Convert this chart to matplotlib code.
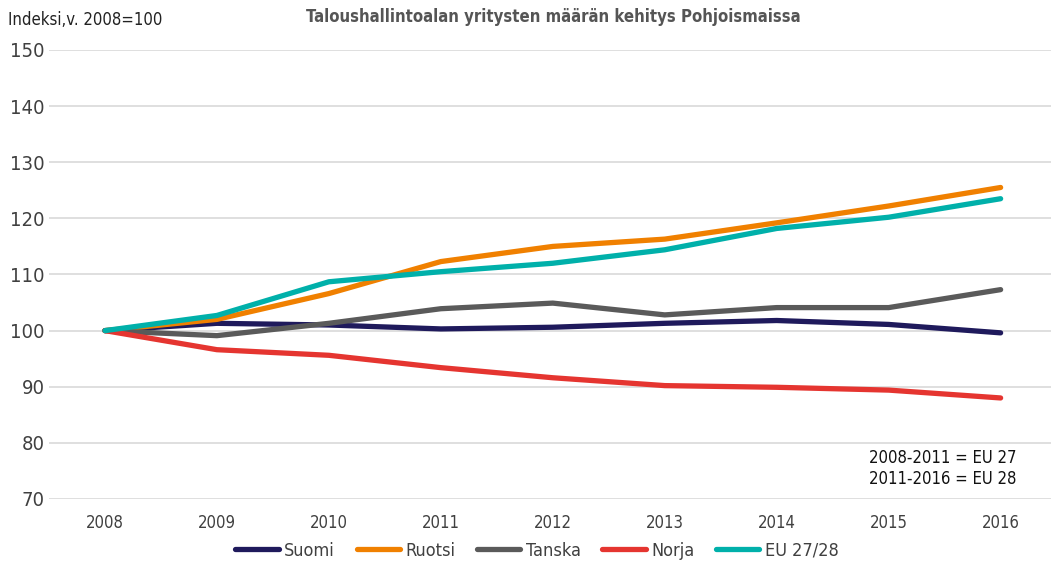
import matplotlib
matplotlib.use("Agg")
import matplotlib.pyplot as plt

years = [2008, 2009, 2010, 2011, 2012, 2013, 2014, 2015, 2016]
suomi = [100, 101.3, 101.0, 100.3, 100.6, 101.3, 101.8, 101.1, 99.6]
ruotsi = [100, 102.0, 106.6, 112.3, 115.0, 116.3, 119.2, 122.2, 125.5]
tanska = [100, 99.1, 101.3, 103.9, 104.9, 102.8, 104.1, 104.1, 107.3]
norja = [100, 96.6, 95.6, 93.4, 91.6, 90.2, 89.9, 89.4, 88.0]
eu = [100, 102.7, 108.7, 110.5, 112.0, 114.4, 118.2, 120.2, 123.5]
series_names = ["Suomi", "Ruotsi", "Tanska", "Norja", "EU 27/28"]
yticks = [70, 80, 90, 100, 110, 120, 130, 140, 150]

colors = ["#1f1a5c", "#f08000", "#5a5a5a", "#e53530", "#00b0aa"]

plt.rcParams["font.family"] = ["DejaVu Sans"]
plt.rcParams["font.stretch"] = "condensed"
txt = "#404040"

fig = plt.figure(figsize=(10.51, 5.66), dpi=100)
ax = fig.add_axes([0.0466, 0.1184, 0.9534, 0.7933])

for vals, name, c in zip([suomi, ruotsi, tanska, norja, eu], series_names, colors):
    ax.plot(years, vals, color=c, lw=3.8, solid_capstyle="round", label=name, zorder=3)

ax.set_ylim(70, 150)
ax.set_xlim(2007.5, 2016.45)
ax.set_yticks(yticks)
ax.set_xticks(years)
ax.grid(axis="y", color="#d9d9d9", lw=1.2, zorder=0)
for s in ax.spines.values():
    s.set_visible(False)
ax.tick_params(axis="both", length=0, colors=txt)
ax.tick_params(axis="y", labelsize=14.5, pad=3)
ax.tick_params(axis="x", labelsize=12, pad=11)

fig.text(0.008, 0.965, "Indeksi,v. 2008=100", fontsize=12, color="#222222", va="center", ha="left")
fig.text(0.526, 0.97, "Taloushallintoalan yritysten määrän kehitys Pohjoismaissa", fontsize=12,
         fontweight="bold", color="#555555", va="center", ha="center")
ax.text(0.818, 0.025, "2008-2011 = EU 27\n2011-2016 = EU 28", transform=ax.transAxes,
        fontsize=12, color="#111111", ha="left", va="bottom", linespacing=1.2,
        multialignment="left")

leg = fig.legend(loc="center", bbox_to_anchor=(0.511, 0.027), ncol=5, frameon=False,
                 fontsize=13, handlelength=2.4, handletextpad=0.3, columnspacing=1.2)
for t in leg.get_texts():
    t.set_color(txt)

fig.savefig("out.png", dpi=100)
